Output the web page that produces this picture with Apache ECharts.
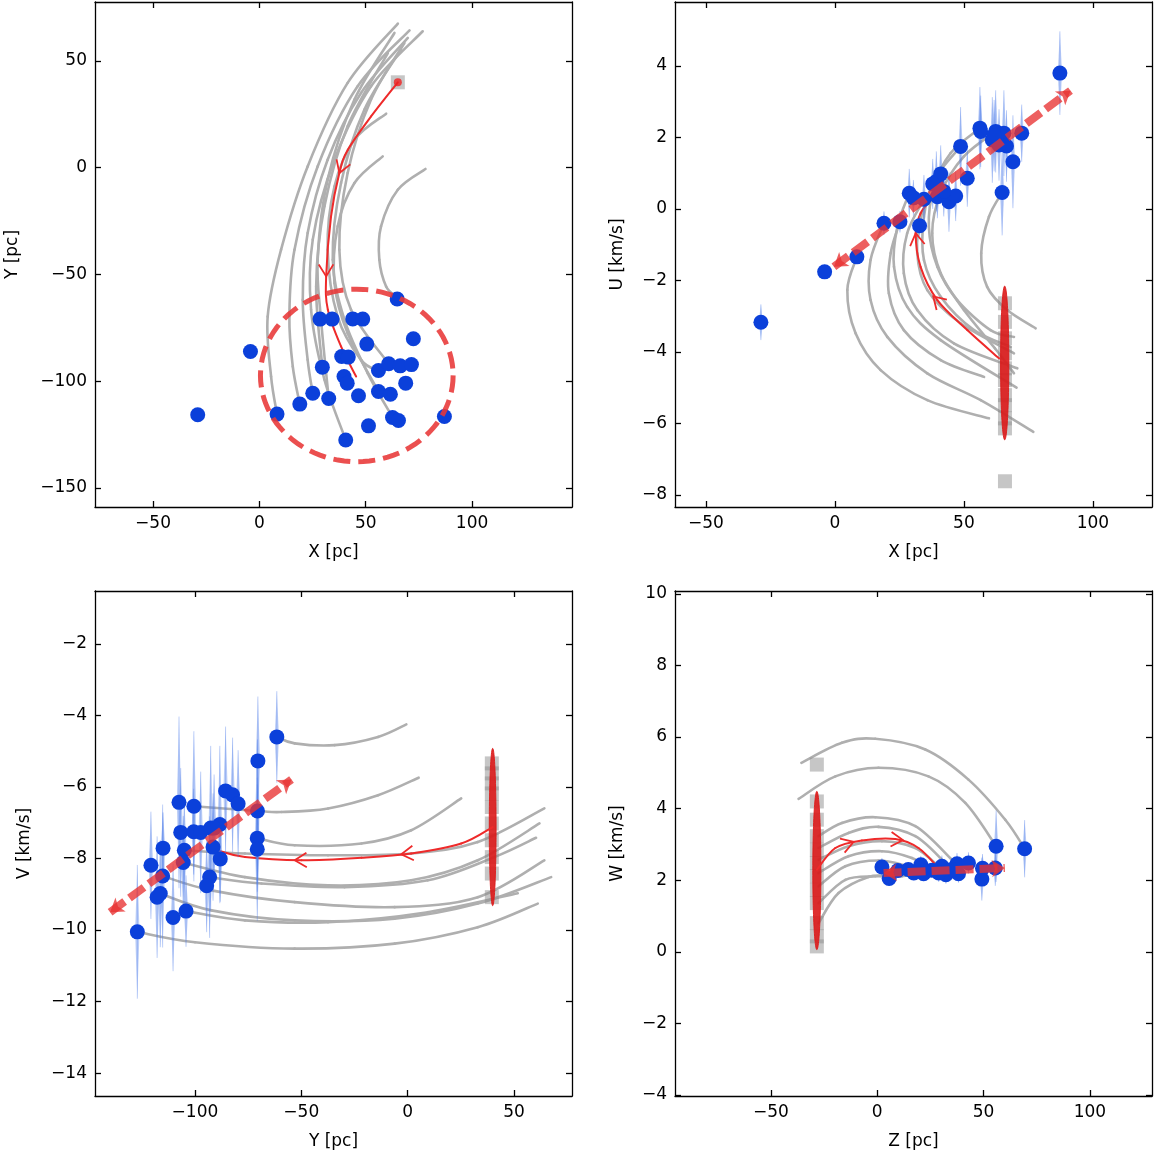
<!DOCTYPE html>
<html><head><meta charset="utf-8">
<script src="https://cdn.jsdelivr.net/npm/echarts@6/dist/echarts.min.js"></script>
<style>html,body{margin:0;padding:0;background:#fff}#c{width:1155px;height:1155px}</style>
</head><body><div id="c"></div>
<script>
// ---------------- DATA ----------------
// Panel 1: X vs Y
const p1X = [-29.0,-4.2,8.3,19.0,25.1,32.6,29.6,28.5,34.2,43.9,48.6,64.8,50.5,72.4,38.7,41.8,56.0,60.8,66.2,71.5,68.8,39.8,41.3,46.6,56.0,61.6,51.3,62.6,65.4,87.0,40.6];
const p1Y = [-115.7,-86.1,-115.4,-110.7,-105.6,-108.1,-93.4,-70.9,-70.9,-70.8,-70.9,-61.5,-82.6,-80.1,-88.4,-88.7,-95.0,-91.8,-92.8,-92.2,-100.9,-97.8,-100.9,-106.8,-104.8,-106.1,-120.9,-117.0,-118.4,-116.5,-127.5];
const p1Squares = [[65.1, 40.0]];
const p1Ring = [[45.8, -97.3, 45.3, 40.4]];
const p1Orbits = [
 [[65.1,67.5],[41.5,39.7],[22.7,0.6],[10.2,-38.4],[3.9,-69.7],[5.5,-97.8],[8.3,-115.4]],
 [[70.6,64.3],[46.2,38.1],[27.4,0.6],[16.5,-38.4],[14.1,-69.7],[15.7,-93.1],[19.0,-110.7]],
 [[69.8,60.8],[47.8,35.0],[32.1,3.7],[22.7,-30.6],[20.4,-61.9],[22.7,-90.0],[25.1,-105.6]],
 [[76.8,63.9],[52.5,38.1],[35.3,3.7],[25.1,-33.7],[24.3,-66.5],[30.6,-99.3],[40.6,-127.5]],
 [[63.5,63.1],[44.7,31.9],[32.1,-5.6],[27.4,-43.1],[29.0,-71.2],[32.6,-108.1]],
 [[59.6,25.3],[44.7,13.1],[35.3,-8.8],[32.1,-38.4],[36.8,-69.7],[47.8,-90.0],[56.0,-95.0]],
 [[58.0,5.3],[44.7,-7.2],[36.8,-27.5],[35.3,-54.0],[41.5,-77.5],[56.0,-104.8]],
 [[78.1,-0.6],[65.1,-10.3],[57.2,-27.5],[56.4,-43.1],[59.6,-55.6],[64.3,-60.3]],
 [[66.6,55.3],[49.4,27.2],[38.4,-7.2],[34.5,-43.1],[40.0,-71.2],[50.9,-96.2],[62.4,-116.5]],
 [[68.2,58.4],[52.5,31.9],[41.5,-2.5],[37.6,-38.4],[43.1,-66.5],[60.8,-91.8]],
 [[60.4,53.7],[41.5,19.4],[30.6,-18.1],[26.7,-55.6],[29.6,-93.4]]
];
const p1Red = [[65.1,40.0],[52.5,24.0],[41.6,8.4],[37.6,-2.5],[33.7,-22.8],[31.4,-50.9],[32.2,-66.5],[38.4,-83.7],[45.5,-97.8]];
const p1Chevrons = [[37.6,-2.5,41.6,8.4],[31.4,-50.9,31.3,-40.0]];

// Panel 2: X vs U
const p2X = [-28.7,-4.0,8.5,19.0,25.2,32.8,28.8,30.4,34.5,39.3,41.0,39.7,44.2,46.8,51.3,48.7,56.2,56.5,62.3,61.0,65.5,66.5,63.6,69.0,72.4,64.8,87.2,61.7,42.2,37.9];
const p2U = [-3.17,-1.76,-1.34,-0.40,-0.36,-0.47,0.44,0.31,0.27,0.77,0.98,0.34,0.20,0.36,0.86,1.75,2.26,2.17,2.17,1.93,2.12,1.76,1.79,1.32,2.12,0.46,3.80,2.05,0.49,0.70];
const p2ErrU = [0.5,0.2,0.2,0.33,0.3,0.3,0.68,0.5,0.68,0.84,0.8,0.6,0.84,0.7,0.8,1.1,1.15,1.0,1.15,1.2,1.2,1.0,1.0,1.3,0.8,1.2,1.17,1.0,0.7,0.7];
const p2SquareU = [-2.64,-3.16,-3.62,-4.04,-4.46,-4.79,-5.21,-5.49,-5.86,-6.14,-7.62];
const p2SquareX = 65.9;
const p2Ellipse = [[65.8,-4.31,1.6,2.15]];
const p2Arrow = [[-0.4,-1.62],[91.3,3.31]];
const p2Orbits = [
 [[8.5,-1.34],[4.8,-2.27],[8.0,-3.48],[17.7,-4.51],[35.8,-5.35],[59.7,-5.86]],
 [[19.0,-0.40],[13.8,-1.43],[13.8,-2.55],[20.3,-3.58],[35.8,-4.60],[56.5,-5.35],[76.9,-6.24]],
 [[25.2,-0.36],[21.6,-1.24],[20.9,-2.36],[26.7,-3.39],[41.0,-4.23],[57.8,-4.70]],
 [[28.8,0.44],[24.2,-0.50],[22.9,-1.62],[28.0,-2.74],[41.0,-3.67],[70.4,-5.00]],
 [[34.5,0.27],[28.0,-0.68],[26.7,-1.80],[31.9,-2.83],[46.1,-3.76],[70.7,-4.46]],
 [[41.0,0.81],[33.8,-0.12],[31.9,-1.24],[35.8,-2.27],[48.7,-3.20],[69.4,-4.04]],
 [[48.7,1.75],[38.4,0.81],[34.5,-0.22],[34.5,-1.43],[41.0,-2.46],[53.9,-3.39],[68.1,-3.86]],
 [[56.2,2.26],[44.8,1.56],[38.4,0.62],[36.4,-0.50],[39.7,-1.62],[47.4,-2.55],[60.3,-3.39],[69.4,-3.58]],
 [[64.8,0.46],[59.7,-0.22],[56.7,-1.24],[59.0,-2.18],[66.8,-2.83],[77.8,-3.34]],
 [[62.3,2.17],[50.0,1.47],[41.0,0.44],[37.7,-0.68],[41.0,-1.80],[50.0,-2.83],[62.0,-3.90],[69.4,-4.60]]
];
const p2Red = [[63.6,-4.18],[51.3,-3.39],[39.7,-2.55],[33.2,-1.62],[31.3,-0.68],[33.2,-0.12],[37.1,0.25]];
const p2Chevrons = [[38.1,-2.45,51.3,-3.39],[31.3,-0.68,33.2,-1.62]];

// Panel 3: Y vs V
const p3Y = [-127.1,-120.7,-117.8,-116.3,-115.2,-115.0,-110.3,-104.2,-107.5,-100.5,-106.7,-105.0,-105.5,-100.6,-97.3,-92.6,-88.3,-91.5,-88.1,-93.1,-94.5,-85.6,-82.3,-79.7,-70.4,-61.5,-70.6,-70.7,-70.7,-91.0];
const p3V = [-10.05,-8.19,-9.08,-8.98,-8.49,-7.71,-9.65,-9.47,-6.43,-6.54,-7.27,-7.77,-8.11,-7.25,-7.27,-7.15,-7.05,-7.68,-8.01,-8.52,-8.76,-6.11,-6.22,-6.47,-5.27,-4.60,-6.67,-7.43,-7.74,-7.15];
const p3ErrV = [1.87,1.5,1.7,1.5,2.0,1.0,1.5,1.0,2.4,2.1,1.8,1.5,1.3,1.2,1.7,2.3,2.2,1.5,1.2,1.7,1.3,1.8,1.6,1.5,1.8,1.28,2.0,1.5,2.0,1.5];
const p3SquareV = [-5.34,-5.62,-5.90,-6.18,-6.56,-7.02,-7.49,-7.96,-8.42,-9.08];
const p3SquareY = 39.6;
const p3Ellipse = [[40.0,-7.12,1.6,2.2]];
const p3Arrow = [[-139.9,-9.5],[-54.6,-5.79]];
const p3Orbits = [
 [[-61.5,-4.60],[-53.1,-4.78],[-34.3,-4.83],[-13.9,-4.60],[-0.6,-4.25]],
 [[-100.5,-6.54],[-70.6,-6.67],[-59.3,-6.70],[-37.4,-6.60],[-13.9,-6.23],[5.2,-5.74]],
 [[-70.6,-7.43],[-53.1,-7.63],[-21.7,-7.58],[1.7,-7.21],[25.2,-6.32]],
 [[-104.7,-7.77],[-76.5,-7.86],[-37.4,-7.91],[1.7,-7.86],[33.0,-7.54],[64.3,-6.60]],
 [[-105.5,-8.11],[-76.5,-8.52],[-37.4,-8.75],[1.7,-8.61],[33.0,-8.05],[62.0,-7.02]],
 [[-93.1,-8.52],[-68.7,-8.70],[-29.6,-8.80],[9.5,-8.61],[40.8,-7.96],[60.4,-7.42]],
 [[-115.2,-8.49],[-92.2,-8.89],[-53.1,-9.22],[-6.1,-9.36],[33.0,-9.08],[64.3,-8.05]],
 [[-116.3,-8.98],[-92.2,-9.45],[-53.1,-9.73],[-6.1,-9.68],[33.0,-9.26],[67.5,-8.52]],
 [[-104.2,-9.47],[-76.5,-9.73],[-37.4,-9.78],[9.5,-9.50],[51.8,-8.97]],
 [[-127.1,-10.05],[-100.0,-10.34],[-53.1,-10.52],[-6.1,-10.38],[33.0,-9.92],[61.2,-9.26]]
];
const p3Red = [[40.0,-7.12],[25.2,-7.58],[1.7,-7.86],[-21.7,-7.98],[-49.9,-8.05],[-76.5,-7.96],[-88.3,-7.79]];
const p3Chevrons = [[-3.0,-7.88,10.0,-7.80],[-53.1,-8.05,-40.0,-8.03]];

// Panel 4: Z vs W
const p4Z = [2.2,5.6,9.7,17.2,20.5,21.8,30.4,32.3,37.5,38.2,42.9,49.2,49.5,55.5,55.9,69.3,28.9,35.0,14.6,25.7];
const p4W = [2.37,2.05,2.27,2.20,2.43,2.18,2.39,2.15,2.46,2.18,2.48,2.03,2.33,2.34,2.95,2.88,2.20,2.30,2.30,2.28];
const p4ErrW = [0.25,0.2,0.2,0.2,0.25,0.2,0.3,0.25,0.3,0.25,0.3,0.6,0.4,0.5,1.0,0.8,0.25,0.25,0.2,0.2];
const p4SquareW = [5.23,4.20,3.69,3.23,2.85,2.48,2.11,1.73,1.36,0.80,0.43,0.15];
const p4SquareZ = -28.4;
const p4Ellipse = [[-28.4,2.27,1.9,2.21]];
const p4Arrow = [[3.0,2.2],[60.0,2.34]];
const p4Orbits = [
 [[-35.7,5.28],[-16.6,5.84],[-0.9,5.95],[22.6,5.65],[42.9,4.81],[60.2,3.69],[69.3,2.88]],
 [[-37.0,4.27],[-19.7,4.90],[0.6,5.14],[24.1,4.90],[41.4,4.16],[55.9,2.95]],
 [[-27.6,3.23],[-16.6,3.60],[-0.9,3.76],[17.9,3.51],[35.1,2.57]],
 [[-27.6,2.90],[-13.5,3.32],[0.6,3.49],[17.9,3.23],[32.0,2.48]],
 [[-27.6,2.57],[-13.5,2.95],[2.2,3.09],[17.9,2.90],[28.8,2.39]],
 [[-27.6,2.20],[-13.5,2.67],[2.2,2.81],[16.3,2.62],[25.7,2.29]],
 [[-27.6,1.83],[-15.0,2.39],[0.6,2.55],[14.7,2.39],[22.6,2.25]],
 [[-27.6,1.36],[-15.0,2.01],[-0.9,2.11],[11.6,2.11],[17.9,2.20]],
 [[-27.6,0.80],[-18.2,1.64],[-4.1,2.09],[5.3,2.11]]
];
const p4Red = [[-28.4,2.29],[-19.7,2.90],[-7.2,3.11],[8.5,3.15],[19.4,2.90],[28.8,2.34]];
const p4Chevrons = [[-11.1,3.07,-19.7,2.90],[12.1,3.12,3.0,3.16]];

// Axis settings (ranges and tick labels)
const axisX = [[-77.3,147.0],[-62.0,122.9],[-147.0,77.3],[-95.1,129.2]];
const axisY = [[-158.9,77.6],[-8.34,5.79],[-14.64,-0.52],[-4.03,10.08]];
const ticksX = [[-50,0,50,100],[-50,0,50,100],[-100,-50,0,50],[-50,0,50,100]];
const ticksY = [[-150,-100,-50,0,50],[-8,-6,-4,-2,0,2,4],[-14,-12,-10,-8,-6,-4,-2],[-4,-2,0,2,4,6,8,10]];
const namesX = ['X [pc]','X [pc]','Y [pc]','Z [pc]'];
const namesY = ['Y [pc]','U [km/s]','V [km/s]','W [km/s]'];

// ---------------- CHART ----------------
const FONT = 'DejaVu Sans';
const chart = echarts.init(document.getElementById('c'), null, {renderer:'canvas'});
const gridBoxes = [
  {left:95, top:2, width:477, height:505},
  {left:675, top:2, width:477, height:505},
  {left:95, top:591, width:477, height:505},
  {left:675, top:591, width:477, height:505}
];
const yNameGap = [74, 49, 62, 49];
const fmt = v => (v < 0 ? '\u2212' + (-v) : String(v));

const xAxes = [], yAxes = [], series = [];
const line = {color:'#000', width:1.3};
for (let i = 0; i < 4; i++) {
  const base = {gridIndex:i, type:'value', min:axisX[i][0], max:axisX[i][1], splitLine:{show:false},
    axisLine:{show:true, onZero:false, lineStyle:line}};
  xAxes.push(Object.assign({}, base, {position:'bottom',
    axisTick:{show:true, inside:true, length:6, lineStyle:line, customValues:ticksX[i]},
    axisLabel:{show:true, customValues:ticksX[i], formatter:fmt, color:'#000', fontFamily:FONT, fontSize:17, margin:8},
    name:namesX[i], nameLocation:'middle', nameGap:37, nameTextStyle:{color:'#000', fontFamily:FONT, fontSize:17}}));
  xAxes.push(Object.assign({}, base, {position:'top',
    axisTick:{show:true, inside:true, length:6, lineStyle:line, customValues:ticksX[i]},
    axisLabel:{show:false}}));
  const ybase = {gridIndex:i, type:'value', min:axisY[i][0], max:axisY[i][1], splitLine:{show:false},
    axisLine:{show:true, onZero:false, lineStyle:line}};
  yAxes.push(Object.assign({}, ybase, {position:'left',
    axisTick:{show:true, inside:true, length:6, lineStyle:line, customValues:ticksY[i]},
    axisLabel:{show:true, customValues:ticksY[i], formatter:fmt, color:'#000', fontFamily:FONT, fontSize:17, margin:8},
    name:namesY[i], nameLocation:'middle', nameGap:yNameGap[i], nameRotate:90, nameTextStyle:{color:'#000', fontFamily:FONT, fontSize:17}}));
  yAxes.push(Object.assign({}, ybase, {position:'right',
    axisTick:{show:true, inside:true, length:6, lineStyle:line, customValues:ticksY[i]},
    axisLabel:{show:false}}));
}

function ax(i){ return {xAxisIndex:2*i, yAxisIndex:2*i}; }

// Smooth curve through data points (Catmull-Rom, computed in pixel space from api.coord)
function curveSeries(curve, i, color, width, z) {
  return Object.assign({type:'custom', data:curve, silent:true, z:z,
    renderItem:function(params, api){
      const k = params.dataIndex, n = curve.length;
      if (k >= n - 1) return null;
      const P = j => api.coord(curve[Math.max(0, Math.min(n - 1, j))]);
      const p0 = P(k-1), p1 = P(k), p2 = P(k+1), p3 = P(k+2);
      return {type:'bezierCurve', shape:{x1:p1[0], y1:p1[1], x2:p2[0], y2:p2[1],
        cpx1:p1[0] + (p2[0]-p0[0])/6, cpy1:p1[1] + (p2[1]-p0[1])/6,
        cpx2:p2[0] - (p3[0]-p1[0])/6, cpy2:p2[1] - (p3[1]-p1[1])/6},
        style:{stroke:color, lineWidth:width, fill:'none', lineCap:'round'}};
    }}, ax(i));
}

function ellipseRender(fill, stroke, lw, dash) {
  return function(params, api) {
    const c = api.coord([api.value(0), api.value(1)]);
    const s = api.size([api.value(2), api.value(3)]);
    const pts = [];
    for (let k = 0; k <= 96; k++) {
      const t = k / 96 * Math.PI * 2;
      pts.push([c[0] + s[0] * Math.cos(t), c[1] + s[1] * Math.sin(t)]);
    }
    return {type: fill === 'none' ? 'polyline' : 'polygon', shape:{points:pts},
      style:{fill:fill, stroke:stroke, lineWidth:lw, lineDash:dash}};
  };
}

function chevronRender(params, api) {
  const p = api.coord([api.value(0), api.value(1)]);
  const q = api.coord([api.value(2), api.value(3)]);
  let dx = p[0]-q[0], dy = p[1]-q[1];
  const L = Math.hypot(dx, dy) || 1; dx /= L; dy /= L;
  const len = 14, a = 0.55;
  const rot = (ang) => [dx*Math.cos(ang) - dy*Math.sin(ang), dx*Math.sin(ang) + dy*Math.cos(ang)];
  const r1 = rot(a), r2 = rot(-a);
  return {type:'polyline', shape:{points:[[p[0]-len*r1[0], p[1]-len*r1[1]], p, [p[0]-len*r2[0], p[1]-len*r2[1]]]},
    style:{stroke:'#ee2a2a', lineWidth:1.8, fill:'none'}};
}

function errRender(params, api) {
  const x = api.value(0), y = api.value(1), e = api.value(2);
  const t = api.coord([x, y + e]), b = api.coord([x, y - e]), m = api.coord([x, y]);
  return {type:'group', children:[
    {type:'polygon', shape:{points:[t, [m[0]+2.2, m[1]], b, [m[0]-2.2, m[1]]]},
      style:{fill:'rgba(80,125,235,0.38)'}},
    {type:'line', shape:{x1:t[0], y1:t[1], x2:b[0], y2:b[1]}, style:{stroke:'rgba(80,125,235,0.35)', lineWidth:1}}
  ]};
}

const panels = [
  {orbits:p1Orbits, red:p1Red, chev:p1Chevrons, squares:p1Squares, sx:p1X, sy:p1Y, err:null, ellipse:null, arrow:null},
  {orbits:p2Orbits, red:p2Red, chev:p2Chevrons, squares:p2SquareU.map(u=>[p2SquareX,u]), sx:p2X, sy:p2U, err:p2ErrU, ellipse:p2Ellipse, arrow:p2Arrow},
  {orbits:p3Orbits, red:p3Red, chev:p3Chevrons, squares:p3SquareV.map(v=>[p3SquareY,v]), sx:p3Y, sy:p3V, err:p3ErrV, ellipse:p3Ellipse, arrow:p3Arrow},
  {orbits:p4Orbits, red:p4Red, chev:p4Chevrons, squares:p4SquareW.map(w=>[p4SquareZ,w]), sx:p4Z, sy:p4W, err:p4ErrW, ellipse:p4Ellipse, arrow:p4Arrow}
];

panels.forEach((P, i) => {
  P.orbits.forEach(c => series.push(curveSeries(c, i, '#afafaf', 2.6, 2)));
  series.push(Object.assign({type:'scatter', data:P.squares, symbol:'rect', symbolSize:14, silent:true,
    itemStyle:{color:'rgba(140,140,140,0.62)'}, z:3}, ax(i)));
  if (P.ellipse) series.push(Object.assign({type:'custom', data:P.ellipse, silent:true,
    renderItem:ellipseRender('rgba(220,25,25,0.9)', 'rgba(220,25,25,0.9)', 1, null), z:4}, ax(i)));
  series.push(curveSeries(P.red, i, '#ee2a2a', 2, 5));
  series.push(Object.assign({type:'custom', data:P.chev, silent:true, renderItem:chevronRender, z:5}, ax(i)));
  if (P.err) series.push(Object.assign({type:'custom', data:P.sx.map((x,k)=>[x, P.sy[k], P.err[k]]), silent:true,
    renderItem:errRender, z:6}, ax(i)));
  series.push(Object.assign({type:'scatter', data:P.sx.map((x,k)=>[x, P.sy[k]]), symbol:'circle', symbolSize:15, silent:true,
    itemStyle:{color:'#0b40da', opacity:1}, z:7}, ax(i)));
  if (P.arrow) series.push(Object.assign({type:'lines', coordinateSystem:'cartesian2d', silent:true,
    data:[{coords:P.arrow}], symbol:['arrow','arrow'], symbolSize:13,
    lineStyle:{color:'#e83232', width:8, type:[18,6], opacity:0.78}, z:8}, ax(i)));
});
// Panel 1 extras: dashed ring and starting point
series.push(Object.assign({type:'custom', data:p1Ring, silent:true,
  renderItem:ellipseRender('none', 'rgba(232,55,55,0.88)', 5, [17,8]), z:9}, ax(0)));
series.push(Object.assign({type:'scatter', data:p1Red.slice(0,1), symbol:'circle', symbolSize:8, silent:true,
  itemStyle:{color:'#ee2020'}, z:6}, ax(0)));

chart.setOption({
  animation:false,
  backgroundColor:'#fff',
  grid:gridBoxes,
  xAxis:xAxes,
  yAxis:yAxes,
  series:series
});
</script>
</body></html>
